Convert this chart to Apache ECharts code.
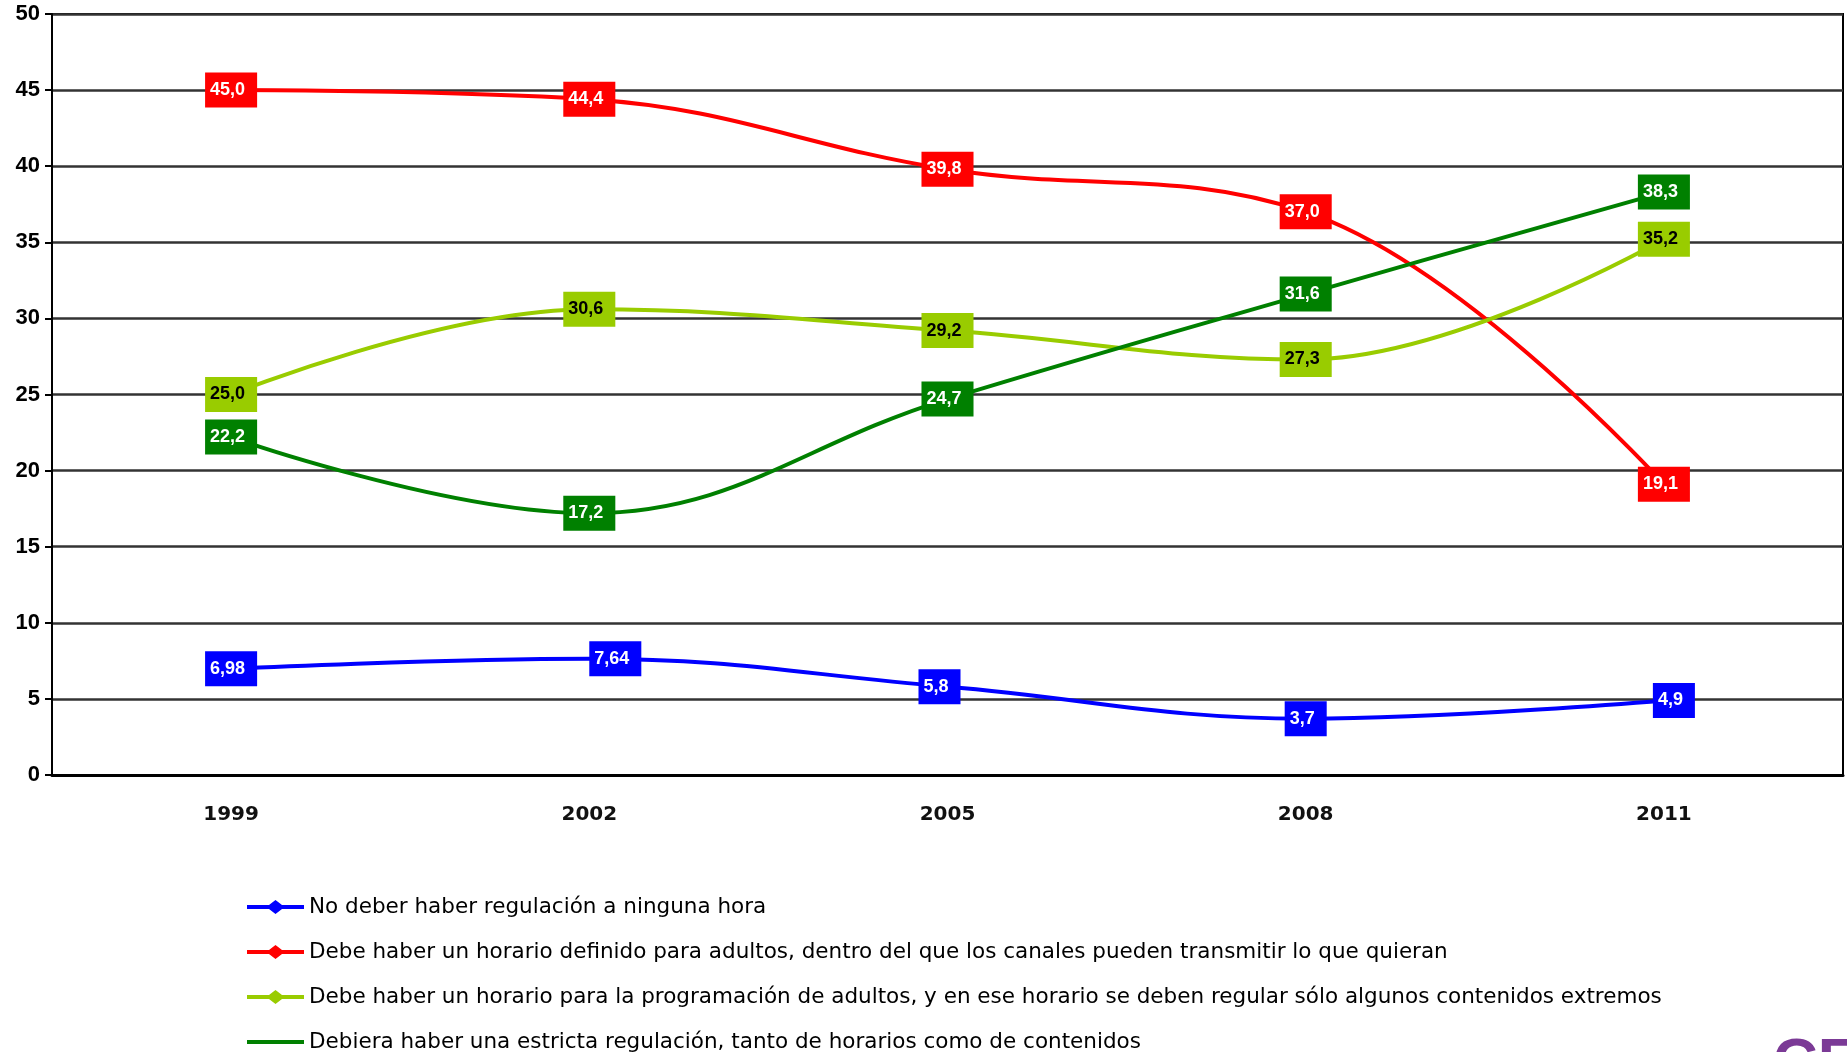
<!DOCTYPE html>
<html>
<head>
<meta charset="utf-8">
<script src="https://cdn.jsdelivr.net/npm/echarts@6/dist/echarts.min.js"></script>
<style>html,body{margin:0;padding:0;background:#fff}#c{width:1847px;height:1052px}</style>
</head>
<body>
<div id="c"></div>
<script>
var years = ['1999', '2002', '2005', '2008', '2011'];
var seriesNames = [
  'No deber haber regulación a ninguna hora',
  'Debe haber un horario definido para adultos, dentro del que los canales pueden transmitir lo que quieran',
  'Debe haber un horario para la programación de adultos, y en ese horario se deben regular sólo algunos contenidos extremos',
  'Debiera haber una estricta regulación, tanto de horarios como de contenidos'
];
var noRegulacion = [6.98, 7.64, 5.8, 3.7, 4.9];
var horarioDefinido = [45.0, 44.4, 39.8, 37.0, 19.1];
var horarioAlgunos = [25.0, 30.6, 29.2, 27.3, 35.2];
var estrictaRegulacion = [22.2, 17.2, 24.7, 31.6, 38.3];
var labelTexts = [
  ['6,98', '7,64', '5,8', '3,7', '4,9'],
  ['45,0', '44,4', '39,8', '37,0', '19,1'],
  ['25,0', '30,6', '29,2', '27,3', '35,2'],
  ['22,2', '17,2', '24,7', '31,6', '38,3']
];
var yTicks = [0, 5, 10, 15, 20, 25, 30, 35, 40, 45, 50];

var colors = ['#0000FF', '#FF0000', '#99CC00', '#008000'];
var labelTextColors = ['#FFFFFF', '#FFFFFF', '#000000', '#FFFFFF'];
var labelShift = [[0, 26, -8, 0, 10], [0, 0, 0, 0, 0], [0, 0, 0, 0, 0], [0, 0, 0, 0, 0]];
var allValues = [noRegulacion, horarioDefinido, horarioAlgunos, estrictaRegulacion];

var diamondIcon = 'path://M0,5L22,5L28.5,0L35,5L57,5L57,9L35,9L28.5,14L22,9L0,9Z';
var plainIcon = 'path://M0,0L0.01,0L0,0.01Z M0,5L57,5L57,9L0,9Z M57,14L56.99,14L57,13.99Z';
var icons = [diamondIcon, diamondIcon, diamondIcon, plainIcon];

var chart = echarts.init(document.getElementById('c'), null, {renderer: 'canvas'});

var series = allValues.map(function (vals, si) {
  return {
    name: seriesNames[si],
    type: 'line',
    smooth: 0.4,
    symbol: 'circle',
    symbolSize: 1,
    showSymbol: true,
    showAllSymbol: true,
    z: 2 + si,
    lineStyle: {color: colors[si], width: 4},
    itemStyle: {color: colors[si]},
    label: {
      show: true,
      position: 'inside',
      color: labelTextColors[si],
      backgroundColor: colors[si],
      fontFamily: 'Liberation Sans, Arial, sans-serif',
      fontWeight: 'bold',
      fontSize: 18,
      lineHeight: 19,
      padding: [8, 12, 8, 5],
      formatter: function (p) { return labelTexts[p.seriesIndex][p.dataIndex]; }
    },
    labelLayout: function (p) {
      return {dx: labelShift[p.seriesIndex][p.dataIndex], hideOverlap: false};
    },
    emphasis: {disabled: true},
    data: vals
  };
});

chart.setOption({
  animation: false,
  backgroundColor: '#FFFFFF',
  grid: {left: 52, right: 4, top: 14, bottom: 277, show: true, borderColor: '#000', borderWidth: 2, backgroundColor: 'transparent'},
  xAxis: {
    type: 'category',
    data: years,
    boundaryGap: true,
    axisLine: {lineStyle: {color: '#000', width: 3}},
    axisTick: {show: false},
    axisLabel: {color: '#111', fontFamily: 'DejaVu Sans, sans-serif', fontWeight: 'bold', fontSize: 20, margin: 30}
  },
  yAxis: {
    type: 'value',
    min: 0,
    max: 50,
    interval: 5,
    axisLine: {show: true, lineStyle: {color: '#000', width: 2}},
    axisTick: {show: true, length: 7, lineStyle: {color: '#000', width: 2}},
    axisLabel: {color: '#000', fontFamily: 'Liberation Sans, Arial, sans-serif', fontWeight: 'bold', fontSize: 22, margin: 12,
      formatter: function (v) { return yTicks.indexOf(v) >= 0 ? String(v) : ''; }},
    splitLine: {lineStyle: {color: '#333', width: 2.5}}
  },
  legend: {
    orient: 'vertical',
    left: 247,
    top: 896,
    padding: 0,
    height: 160,
    itemWidth: 57,
    itemHeight: 14,
    itemGap: 23,
    selectedMode: false,
    textStyle: {color: '#000', fontFamily: 'DejaVu Sans, sans-serif', fontSize: 21.5, lineHeight: 21},
    data: seriesNames.map(function (n, i) { return {name: n, icon: icons[i]}; })
  },
  graphic: [{
    type: 'text',
    left: 1773,
    top: 1033,
    style: {text: 'CE', fill: '#7B3A96', font: 'bold 62px Liberation Sans, Arial, sans-serif'}
  }],
  series: series
});
</script>
</body>
</html>
